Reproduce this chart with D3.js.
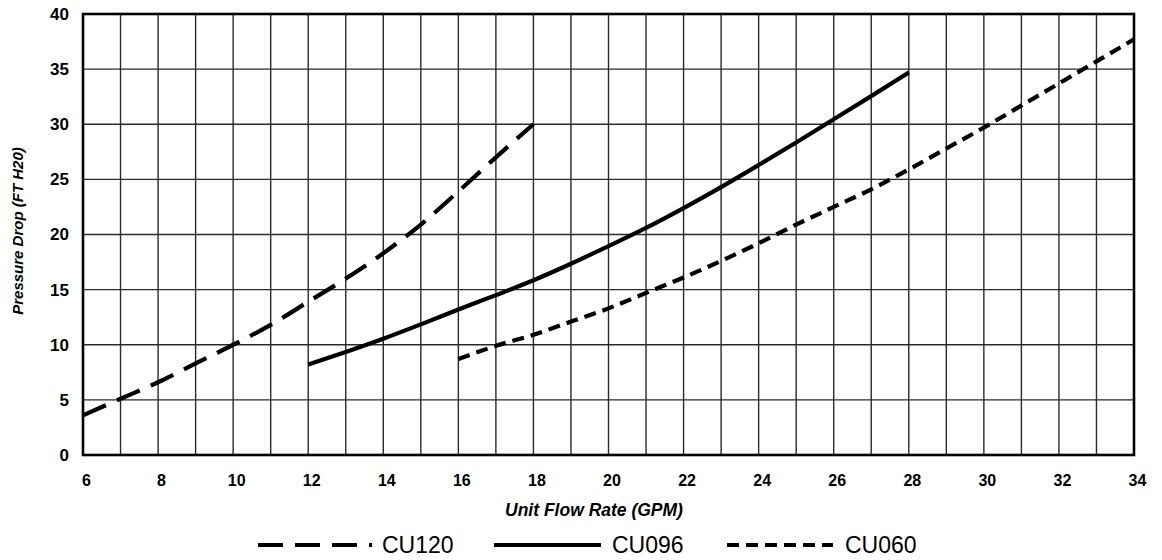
<!DOCTYPE html>
<html>
<head>
<meta charset="utf-8">
<script src="https://cdn.jsdelivr.net/npm/d3@7"></script>
<style>
  body { margin: 0; background: #fff; }
  svg { display: block; font-family: Arial, "Liberation Sans", sans-serif; }
</style>
</head>
<body>
<div id="chart"></div>
<script>
// values
var flowCU120 = [6, 7, 8, 9, 10, 11, 12, 13, 14, 15, 16, 17, 18];
var dropCU120 = [3.6, 5.1, 6.6, 8.3, 10, 11.8, 13.9, 16, 18.3, 20.9, 23.9, 27, 30];
var flowCU096 = [12, 13, 14, 15, 16, 17, 18, 19, 20, 21, 22, 23, 24, 25, 26, 27, 28];
var dropCU096 = [8.2, 9.35, 10.55, 11.85, 13.2, 14.5, 15.85, 17.35, 18.95, 20.6, 22.4, 24.3, 26.3, 28.35, 30.45, 32.55, 34.7];
var flowCU060 = [16, 17, 18, 19, 20, 21, 22, 23, 24, 25, 26, 27, 28, 29, 30, 31, 32, 33, 34];
var dropCU060 = [8.7, 9.9, 10.9, 12.1, 13.3, 14.7, 16.1, 17.6, 19.2, 20.9, 22.5, 24.1, 25.9, 27.8, 29.7, 31.7, 33.7, 35.7, 37.7];
var xTicks = [6, 8, 10, 12, 14, 16, 18, 20, 22, 24, 26, 28, 30, 32, 34];
var yTicks = [0, 5, 10, 15, 20, 25, 30, 35, 40];

var series = [
  { name: "CU120", xs: flowCU120, ys: dropCU120, dash: "25,12" },
  { name: "CU096", xs: flowCU096, ys: dropCU096, dash: null },
  { name: "CU060", xs: flowCU060, ys: dropCU060, dash: "12,7" }
];

var W = 1162, H = 560;
var margin = { top: 14, right: 28, bottom: 105, left: 83 };
var width = W - margin.left - margin.right;
var height = H - margin.top - margin.bottom;

var svg = d3.select("#chart").append("svg").attr("width", W).attr("height", H);
var g = svg.append("g").attr("transform", "translate(" + margin.left + "," + margin.top + ")");

var x = d3.scaleLinear().domain([6, 34]).range([0, width]);
var y = d3.scaleLinear().domain([0, 40]).range([height, 0]);

// grid
g.append("g")
  .selectAll("line")
  .data(d3.range(7, 34))
  .enter()
  .append("line")
  .attr("x1", function (d) { return x(d); })
  .attr("x2", function (d) { return x(d); })
  .attr("y1", 0)
  .attr("y2", height)
  .attr("stroke", "#2a2a2a")
  .attr("stroke-width", 1.4);

g.append("g")
  .selectAll("line")
  .data(yTicks.slice(1, -1))
  .enter()
  .append("line")
  .attr("x1", 0)
  .attr("x2", width)
  .attr("y1", function (d) { return y(d); })
  .attr("y2", function (d) { return y(d); })
  .attr("stroke", "#2a2a2a")
  .attr("stroke-width", 1.4);

// frame
g.append("rect")
  .attr("width", width)
  .attr("height", height)
  .attr("fill", "none")
  .attr("stroke", "#000")
  .attr("stroke-width", 2.6);

// axes (labels only)
var xAxis = d3.axisBottom(x).tickValues(xTicks).tickSize(0).tickPadding(20);
var yAxis = d3.axisLeft(y).tickValues(yTicks).tickSize(0).tickPadding(14);

g.append("g")
  .attr("class", "x axis")
  .attr("transform", "translate(3," + height + ")")
  .call(xAxis)
  .call(function (s) { s.select(".domain").remove(); })
  .selectAll("text")
  .attr("font-size", 16)
  .attr("font-weight", "bold")
  .attr("fill", "#000")
  .attr("font-family", "Arial, 'Liberation Sans', sans-serif");

g.append("g")
  .attr("class", "y axis")
  .call(yAxis)
  .call(function (s) { s.select(".domain").remove(); })
  .selectAll("text")
  .attr("font-size", 17)
  .attr("font-weight", "bold")
  .attr("fill", "#000")
  .attr("font-family", "Arial, 'Liberation Sans', sans-serif");

// curves
var line = d3.line()
  .x(function (d) { return x(d[0]); })
  .y(function (d) { return y(d[1]); })
  .curve(d3.curveMonotoneX);

series.forEach(function (s) {
  var pts = s.xs.map(function (v, i) { return [v, s.ys[i]]; });
  g.append("path")
    .datum(pts)
    .attr("d", line)
    .attr("fill", "none")
    .attr("stroke", "#000")
    .attr("stroke-width", 4.2)
    .attr("stroke-dasharray", s.dash);
});

// axis titles
svg.append("text")
  .attr("x", 594)
  .attr("y", 516)
  .attr("text-anchor", "middle")
  .attr("font-size", 17.5)
  .attr("font-weight", "bold")
  .attr("font-style", "italic")
  .text("Unit Flow Rate (GPM)");

svg.append("text")
  .attr("transform", "translate(23,231) rotate(-90)")
  .attr("text-anchor", "middle")
  .attr("font-size", 15)
  .attr("font-weight", "bold")
  .attr("font-style", "italic")
  .text("Pressure Drop (FT H20)");

// legend
var legendPos = [
  { x1: 258, x2: 372, tx: 382 },
  { x1: 494, x2: 601, tx: 612 },
  { x1: 727, x2: 833, tx: 845 }
];
var legend = svg.append("g").attr("transform", "translate(0,545)");
series.forEach(function (s, i) {
  var p = legendPos[i];
  legend.append("line")
    .attr("x1", p.x1).attr("x2", p.x2)
    .attr("y1", 0).attr("y2", 0)
    .attr("stroke", "#000")
    .attr("stroke-width", 4)
    .attr("stroke-dasharray", s.dash);
  legend.append("text")
    .attr("x", p.tx)
    .attr("y", 8)
    .attr("font-size", 23)
    .text(s.name);
});
</script>
</body>
</html>
